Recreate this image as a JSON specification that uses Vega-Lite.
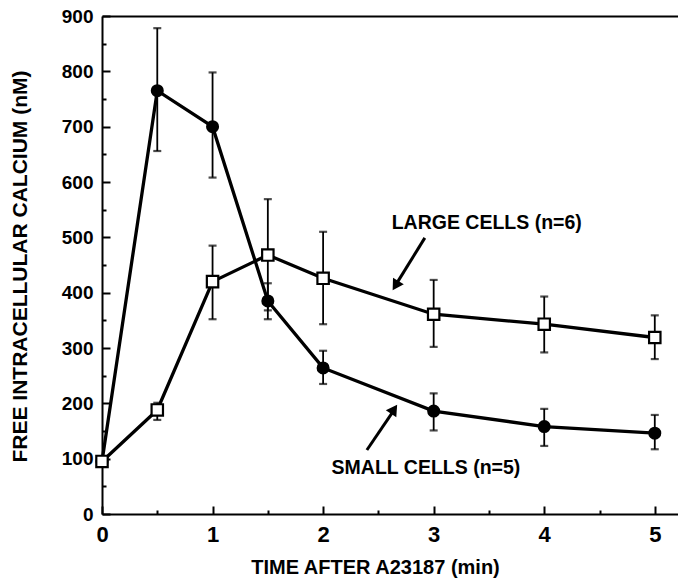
{
  "$schema": "https://vega.github.io/schema/vega-lite/v6.json",
  "width": 576,
  "height": 498,
  "autosize": {"type": "none"},
  "padding": {"left": 102, "top": 16, "right": 0, "bottom": 67},
  "background": "white",
  "config": {
    "view": {"stroke": null},
    "font": "Liberation Sans",
    "axis": {"grid": false, "domain": true, "domainColor": "black", "domainWidth": 2, "labelFlush": false, "tickColor": "black", "labelColor": "black", "titleColor": "black", "labelFontWeight": "bold", "titleFontWeight": "bold", "labelFont": "Liberation Sans", "titleFont": "Liberation Sans"}
  },
  "datasets": {
    "cells": [
      {"group": "small", "t": 0, "mean": 95, "lo": null, "hi": null},
      {"group": "small", "t": 0.5, "mean": 765, "lo": 656, "hi": 878},
      {"group": "small", "t": 1, "mean": 700, "lo": 608, "hi": 798},
      {"group": "small", "t": 1.5, "mean": 385, "lo": 352, "hi": 417},
      {"group": "small", "t": 2, "mean": 264, "lo": 235, "hi": 295},
      {"group": "small", "t": 3, "mean": 186, "lo": 151, "hi": 218},
      {"group": "small", "t": 4, "mean": 158, "lo": 123, "hi": 190},
      {"group": "small", "t": 5, "mean": 146, "lo": 117, "hi": 179},
      {"group": "large", "t": 0, "mean": 95, "lo": null, "hi": null},
      {"group": "large", "t": 0.5, "mean": 188, "lo": 170, "hi": 201},
      {"group": "large", "t": 1, "mean": 420, "lo": 352, "hi": 485},
      {"group": "large", "t": 1.5, "mean": 468, "lo": 368, "hi": 569},
      {"group": "large", "t": 2, "mean": 426, "lo": 343, "hi": 510},
      {"group": "large", "t": 3, "mean": 361, "lo": 302, "hi": 423},
      {"group": "large", "t": 4, "mean": 343, "lo": 292, "hi": 393},
      {"group": "large", "t": 5, "mean": 319, "lo": 280, "hi": 359}
    ],
    "one": [{}]
  },
  "resolve": {"axis": {"x": "independent", "y": "independent"}},
  "layer": [
    {
      "data": {"name": "cells"},
      "mark": {"type": "line", "color": "black", "strokeWidth": 3.3},
      "encoding": {
        "x": {"field": "t", "type": "quantitative", "scale": {"domain": [0, 5.21], "nice": false, "zero": false},
          "axis": {"orient": "bottom", "values": [0, 1, 2, 3, 4, 5], "tickSize": -8, "tickWidth": 2, "labelPadding": 18, "labelFontSize": 22, "title": "TIME AFTER A23187 (min)", "titleFontSize": 20, "titleX": 273, "titleY": 53, "titleBaseline": "middle", "titleAlign": "center"}},
        "y": {"field": "mean", "type": "quantitative", "scale": {"domain": [0, 900], "nice": false},
          "axis": {"orient": "left", "values": [0, 100, 200, 300, 400, 500, 600, 700, 800, 900], "tickSize": -8, "tickWidth": 2, "labelPadding": 17, "labelFontSize": 19, "title": "FREE INTRACELLULAR CALCIUM (nM)", "titleFontSize": 21, "titleX": -82, "titleY": 250, "titleBaseline": "middle", "titleAlign": "center", "titleAngle": -90}},
        "detail": {"field": "group"}
      }
    },
    {
      "data": {"name": "cells"},
      "transform": [{"filter": "datum.lo != null"}],
      "mark": {"type": "rule", "color": "black", "strokeWidth": 1.8},
      "encoding": {
        "x": {"field": "t", "type": "quantitative",
          "axis": {"orient": "bottom", "domain": false, "values": [0.5, 1.5, 2.5, 3.5, 4.5], "tickSize": -4, "tickWidth": 2, "labels": false, "title": null}},
        "y": {"field": "lo", "type": "quantitative",
          "axis": {"orient": "left", "domain": false, "values": [50, 150, 250, 350, 450, 550, 650, 750, 850], "tickSize": -4, "tickWidth": 2, "labels": false, "title": null}},
        "y2": {"field": "hi"}
      }
    },
    {
      "data": {"name": "cells"},
      "transform": [{"filter": "datum.lo != null"}],
      "mark": {"type": "tick", "orient": "horizontal", "color": "black", "size": 8, "thickness": 2.2},
      "encoding": {
        "x": {"field": "t", "type": "quantitative",
          "axis": {"orient": "top", "domain": true, "ticks": false, "labels": false, "title": null}},
        "y": {"field": "lo", "type": "quantitative", "axis": null}
      }
    },
    {
      "data": {"name": "cells"},
      "transform": [{"filter": "datum.lo != null"}],
      "mark": {"type": "tick", "orient": "horizontal", "color": "black", "size": 8, "thickness": 2.2},
      "encoding": {
        "x": {"field": "t", "type": "quantitative", "axis": null},
        "y": {"field": "hi", "type": "quantitative", "axis": null}
      }
    },
    {
      "data": {"name": "cells"},
      "transform": [{"filter": "datum.group == 'small'"}],
      "mark": {"type": "point", "shape": "circle", "filled": true, "color": "black", "size": 170, "opacity": 1},
      "encoding": {
        "x": {"field": "t", "type": "quantitative", "axis": null},
        "y": {"field": "mean", "type": "quantitative", "axis": null}
      }
    },
    {
      "data": {"name": "cells"},
      "transform": [{"filter": "datum.group == 'large'"}],
      "mark": {"type": "point", "shape": "square", "filled": true, "fill": "white", "stroke": "black", "strokeWidth": 2.2, "size": 130, "opacity": 1},
      "encoding": {
        "x": {"field": "t", "type": "quantitative", "axis": null},
        "y": {"field": "mean", "type": "quantitative", "axis": null}
      }
    },
    {
      "data": {"name": "one"},
      "mark": {"type": "rule", "color": "black", "strokeWidth": 3},
      "encoding": {
        "x": {"datum": 2.92, "type": "quantitative", "axis": null},
        "y": {"datum": 499, "type": "quantitative", "axis": null},
        "x2": {"datum": 2.66},
        "y2": {"datum": 415}
      }
    },
    {
      "data": {"name": "one"},
      "mark": {"type": "point", "shape": "triangle-up", "filled": true, "color": "black", "size": 160, "angle": 211.6, "opacity": 1},
      "encoding": {
        "x": {"datum": 2.655, "type": "quantitative", "axis": null},
        "y": {"datum": 412.6, "type": "quantitative", "axis": null}
      }
    },
    {
      "data": {"name": "one"},
      "mark": {"type": "rule", "color": "black", "strokeWidth": 3},
      "encoding": {
        "x": {"datum": 2.396, "type": "quantitative", "axis": null},
        "y": {"datum": 115.7, "type": "quantitative", "axis": null},
        "x2": {"datum": 2.635},
        "y2": {"datum": 186}
      }
    },
    {
      "data": {"name": "one"},
      "mark": {"type": "point", "shape": "triangle-up", "filled": true, "color": "black", "size": 160, "angle": 33.7, "opacity": 1},
      "encoding": {
        "x": {"datum": 2.642, "type": "quantitative", "axis": null},
        "y": {"datum": 189.4, "type": "quantitative", "axis": null}
      }
    },
    {
      "data": {"name": "one"},
      "mark": {"type": "text", "text": "LARGE CELLS (n=6)", "font": "Liberation Sans", "fontWeight": "bold", "fontSize": 19.5, "color": "black", "align": "center", "baseline": "middle"},
      "encoding": {
        "x": {"datum": 3.48, "type": "quantitative", "axis": null},
        "y": {"datum": 526, "type": "quantitative", "axis": null}
      }
    },
    {
      "data": {"name": "one"},
      "mark": {"type": "text", "text": "SMALL CELLS (n=5)", "font": "Liberation Sans", "fontWeight": "bold", "fontSize": 19.5, "color": "black", "align": "center", "baseline": "middle"},
      "encoding": {
        "x": {"datum": 2.93, "type": "quantitative", "axis": null},
        "y": {"datum": 83, "type": "quantitative", "axis": null}
      }
    }
  ]
}
